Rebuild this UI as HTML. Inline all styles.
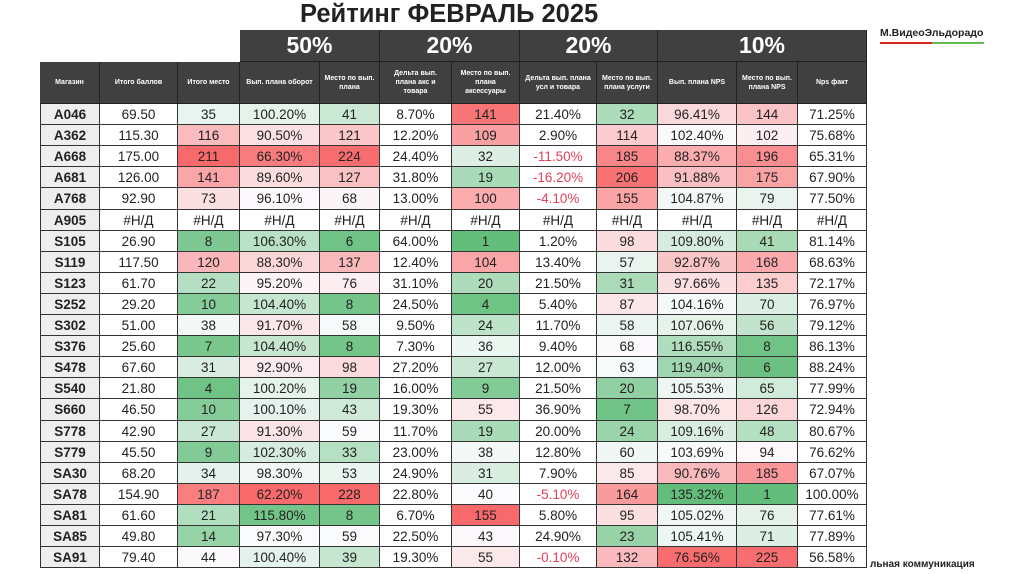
<!DOCTYPE html>
<html><head><meta charset="utf-8">
<style>
body{margin:0;width:1024px;height:574px;background:#fff;position:relative;overflow:hidden;font-family:"Liberation Sans","DejaVu Sans",sans-serif;}
.c{position:absolute;box-sizing:border-box;display:flex;align-items:center;justify-content:center;text-align:center;border-right:1px solid #333;border-bottom:1px solid #333;font-size:13.5px;color:#222;white-space:nowrap;}
.h{background:#404040;color:#fff;font-size:7px;font-weight:bold;line-height:9px;white-space:normal;padding:0 3px;border-color:#222;}
.t{background:#404040;color:#fff;font-size:23px;font-weight:bold;border-color:#222;}
</style></head><body>
<div style="position:absolute;left:300px;top:0px;font-size:25.5px;font-weight:bold;color:#222;">Рейтинг ФЕВРАЛЬ 2025</div>
<div style="position:absolute;left:880px;top:27px;font-size:10.5px;font-weight:bold;color:#222;">М.ВидеоЭльдорадо</div>
<div style="position:absolute;left:880px;top:42px;width:52px;height:2px;background:#d22;"></div>
<div style="position:absolute;left:932px;top:42px;width:52px;height:2px;background:#6b5;"></div>
<div style="position:absolute;left:870px;top:559px;font-size:10px;font-weight:bold;color:#222;">льная коммуникация</div>
<div id="tbl"></div>
<script>
const stores=["A046","A362","A668","A681","A768","A905","S105","S119","S123","S252","S302","S376","S478","S540","S660","S778","S779","SA30","SA78","SA81","SA85","SA91"];
const totalScore=[69.5,115.3,175,126,92.9,null,26.9,117.5,61.7,29.2,51,25.6,67.6,21.8,46.5,42.9,45.5,68.2,154.9,61.6,49.8,79.4];
const totalPlace=[35,116,211,141,73,null,8,120,22,10,38,7,31,4,10,27,9,34,187,21,14,44];
const turnoverPct=[100.2,90.5,66.3,89.6,96.1,null,106.3,88.3,95.2,104.4,91.7,104.4,92.9,100.2,100.1,91.3,102.3,98.3,62.2,115.8,97.3,100.4];
const turnoverPlace=[41,121,224,127,68,null,6,137,76,8,58,8,98,19,43,59,33,53,228,8,59,39];
const accDelta=[8.7,12.2,24.4,31.8,13,null,64,12.4,31.1,24.5,9.5,7.3,27.2,16,19.3,11.7,23,24.9,22.8,6.7,22.5,19.3];
const accPlace=[141,109,32,19,100,null,1,104,20,4,24,36,27,9,55,19,38,31,40,155,43,55];
const svcDelta=[21.4,2.9,-11.5,-16.2,-4.1,null,1.2,13.4,21.5,5.4,11.7,9.4,12,21.5,36.9,20,12.8,7.9,-5.1,5.8,24.9,-0.1];
const svcPlace=[32,114,185,206,155,null,98,57,31,87,58,68,63,20,7,24,60,85,164,95,23,132];
const npsPct=[96.41,102.4,88.37,91.88,104.87,null,109.8,92.87,97.66,104.16,107.06,116.55,119.4,105.53,98.7,109.16,103.69,90.76,135.32,105.02,105.41,76.56];
const npsPlace=[144,102,196,175,79,null,41,168,135,70,56,8,6,65,126,48,94,185,1,76,71,225];
const npsFact=[71.25,75.68,65.31,67.9,77.5,null,81.14,68.63,72.17,76.97,79.12,86.13,88.24,77.99,72.94,80.67,76.62,67.07,100,77.61,77.89,56.58];
const headers=["Магазин","Итого баллов","Итого место","Вып. плана оборот","Место по вып. плана","Дельта вып. плана акс и товара","Место по вып. плана аксессуары","Дельта вып. плана усл и товара","Место по вып. плана услуги","Вып. плана NPS","Место по вып. плана NPS","Nps факт"];
const weights=["50%","20%","20%","10%"];

const xs=[40,100,178,240,320,380,452,520,597,658,737,798,867];
const top0=30,hdrY=62,rowY=104,rowH=21.1;
const root=document.getElementById('tbl');
function cell(x,y,w,h,txt,cls,bg,col,name){
  const d=document.createElement('div');
  d.className='c '+(cls||'');
  d.style.left=x+'px';d.style.top=y+'px';d.style.width=w+'px';d.style.height=h+'px';
  if(bg)d.style.background=bg;if(col)d.style.color=col;
  d.textContent=txt;
  
  
  root.appendChild(d);return d;
}
function mix(a,b,t){return 'rgb('+a.map((v,i)=>Math.round(v+(b[i]-v)*t)).join(',')+')';}
const G=[99,190,123],W=[252,252,255],R=[248,105,107];
function scale(v,lo,mid,hi,invert){
  if(v==null)return '#fff';
  let t;
  if(!invert){ if(v>=mid){t=Math.min(1,(v-mid)/(hi-mid));return mix(W,G,t);} t=Math.min(1,(mid-v)/(mid-lo));return mix(W,R,t);}
  if(v<=mid){t=Math.min(1,(mid-v)/(mid-lo));return mix(W,G,t);} t=Math.min(1,(v-mid)/(hi-mid));return mix(W,R,t);
}
const bands=[[3,5],[5,7],[7,9],[9,12]];
bands.forEach((b,i)=>{cell(xs[b[0]],top0,xs[b[1]]-xs[b[0]],hdrY-top0,weights[i],'t',null,null,'weight-header-'+(i+1));});
headers.forEach((h,i)=>{cell(xs[i],hdrY,xs[i+1]-xs[i],rowY-hdrY,h,'h',null,null,'column-header-'+(i+1));});
const f2=v=>v==null?'#Н/Д':v.toFixed(2);
const fp=v=>v==null?'#Н/Д':v.toFixed(2)+'%';
const fi=v=>v==null?'#Н/Д':String(v);
stores.forEach((s,r)=>{
  const y=Math.round(rowY+r*rowH),h=Math.round(rowY+(r+1)*rowH)-y;
  const row=[
    [s,'#eeeeee',null],
    [f2(totalScore[r]),null,null],
    [fi(totalPlace[r]),scale(totalPlace[r],1,40,211,true),null],
    [fp(turnoverPct[r]),scale(turnoverPct[r],62,97,118),null],
    [fi(turnoverPlace[r]),scale(turnoverPlace[r],1,60,228,true),null],
    [fp(accDelta[r]),null,null],
    [fi(accPlace[r]),scale(accPlace[r],1,40,150,true),null],
    [fp(svcDelta[r]),null,(svcDelta[r]!=null&&svcDelta[r]<0)?'#e0405a':null],
    [fi(svcPlace[r]),scale(svcPlace[r],1,65,215,true),null],
    [fp(npsPct[r]),scale(npsPct[r],76,103,130),null],
    [fi(npsPlace[r]),scale(npsPlace[r],1,90,230,true),null],
    [fp(npsFact[r]),null,null]
  ];
  row.forEach((c,i)=>{
    const d=cell(xs[i],y,xs[i+1]-xs[i],h,c[0],'',c[1],c[2],'cell-'+s.toLowerCase()+'-col'+(i+1));
    if(i==0){d.style.fontWeight='bold';d.style.borderLeft='1px solid #333';}
  });
});
</script>
</body></html>
